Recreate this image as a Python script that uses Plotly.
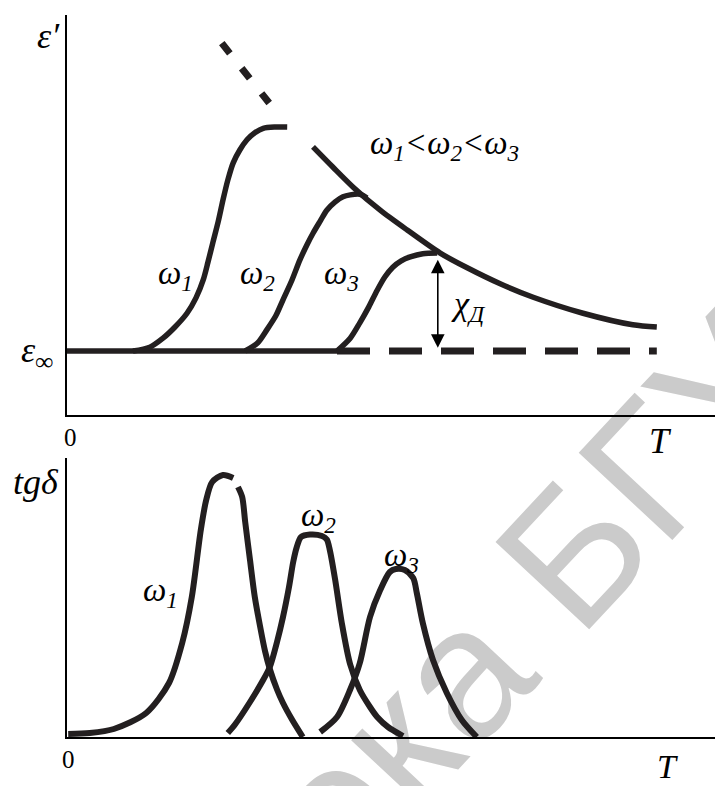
import plotly.graph_objects as go

W, H = 715, 786

# ---------------- data: upper panel (eps' vs T) ----------------
T_w1_top = [1.10, 1.38, 1.60, 1.80, 2.00, 2.15, 2.27, 2.35, 2.43, 2.52, 2.60, 2.68, 2.77, 2.88, 3.00, 3.13, 3.27, 3.47, 3.67]
E_w1_top = [1.00, 1.06, 1.20, 1.375, 1.59, 1.83, 2.11, 2.39, 2.69, 3.02, 3.36, 3.67, 3.94, 4.14, 4.30, 4.41, 4.48, 4.50, 4.50]

T_w2_top = [2.97, 3.18, 3.33, 3.48, 3.60, 3.75, 3.88, 4.00, 4.10, 4.22, 4.33, 4.47, 4.60, 4.72, 4.88, 5.00]
E_w2_top = [1.00, 1.13, 1.33, 1.55, 1.80, 2.11, 2.42, 2.66, 2.84, 3.03, 3.20, 3.33, 3.41, 3.44, 3.45, 3.39]

T_w3_top = [4.50, 4.72, 4.88, 5.03, 5.17, 5.30, 5.43, 5.57, 5.72, 5.93, 6.17]
E_w3_top = [1.00, 1.20, 1.44, 1.69, 1.95, 2.16, 2.31, 2.41, 2.47, 2.52, 2.53]

T_env = [4.10, 4.43, 4.77, 5.22, 5.67, 6.22, 6.67, 7.22, 7.77, 8.60, 9.43, 9.83]
E_env = [4.19, 3.875, 3.56, 3.20, 2.89, 2.53, 2.30, 2.05, 1.84, 1.59, 1.41, 1.375]

T_env_ext = [2.58, 3.37]
E_env_ext = [5.81, 4.875]

eps_inf = 1.0
T_base_solid = [0.0, 4.50]
T_base_dash = [4.50, 9.83]

chi_T = 6.18
chi_top = 2.45
chi_bottom = 1.05

# ---------------- data: lower panel (tg delta vs T) ----------------
T_w1_bot = [0.02, 0.38, 0.78, 1.32, 1.70, 1.92, 2.08, 2.23, 2.32, 2.42, 2.60, 2.77, None,
            2.85, 2.92, 2.97, 3.05, 3.13, 3.22, 3.30, 3.38, 3.50, 3.60, 3.75, 3.93]
D_w1_bot = [0.06, 0.08, 0.16, 0.48, 1.08, 1.88, 2.80, 4.14, 4.74, 5.10, 5.24, 5.18, None,
            5.00, 4.80, 4.30, 3.54, 2.80, 2.20, 1.72, 1.36, 0.95, 0.68, 0.35, 0.00]

T_w2_bot = [2.68, 2.80, 3.05, 3.25, 3.38, 3.50, 3.60, 3.70, 3.77, 3.83, 3.90, 4.05, 4.25,
            4.33, 4.38, 4.47, 4.58, 4.72, 4.88, 5.05, 5.17, 5.35, 5.60]
D_w2_bot = [0.08, 0.25, 0.70, 1.10, 1.40, 1.90, 2.40, 3.00, 3.50, 3.80, 4.00, 4.05, 4.02,
            3.95, 3.74, 3.14, 2.28, 1.45, 0.94, 0.60, 0.40, 0.20, 0.02]

T_w3_bot = [4.22, 4.50, 4.72, 4.88, 5.05, 5.22, 5.38, 5.48, 5.63, 5.77, 5.83, 5.93, 6.10, 6.33, 6.58, 6.83]
D_w3_bot = [0.10, 0.40, 0.95, 1.48, 2.40, 2.94, 3.30, 3.36, 3.34, 3.18, 2.88, 2.28, 1.54, 0.88, 0.34, 0.00]

T_range = [0, 10.8]
E_range = [0, 6.25]
D_range = [0, 5.58]

INK = "#231f20"
SERIF = "Liberation Serif"

fig = go.Figure()


def curve(x, y, ax, width=5.5, dash=None):
    fig.add_trace(go.Scatter(
        x=x, y=y, mode="lines", xaxis=ax[0], yaxis=ax[1],
        line=dict(color=INK, width=width, shape="spline", smoothing=0.8, dash=dash),
        connectgaps=False, hoverinfo="skip", showlegend=False))


top = ("x", "y")
bot = ("x2", "y2")

curve(T_base_solid, [eps_inf] * len(T_base_solid), top, width=5.5)
curve(T_base_dash, [eps_inf] * len(T_base_dash), top, width=7, dash="33px,19px")
curve(T_w1_top, E_w1_top, top)
curve(T_w2_top, E_w2_top, top)
curve(T_w3_top, E_w3_top, top)
curve(T_env, E_env, top)
curve(T_env_ext, E_env_ext, top, width=7, dash="13px,19px")

curve(T_w1_bot, D_w1_bot, bot, width=6)
curve(T_w2_bot, D_w2_bot, bot, width=6)
curve(T_w3_bot, D_w3_bot, bot, width=6)

annotations = []


def label(text, xc, baseline, size, sub=False, italic=True):
    yc = baseline - (0.22 if sub else 0.34) * size
    t = f"<i>{text}</i>" if italic else text
    annotations.append(dict(
        text=t, x=xc / W, y=1 - yc / H, xref="paper", yref="paper",
        xanchor="center", yanchor="middle", showarrow=False,
        font=dict(family=SERIF, size=size, color="black")))


label("ε′", 48, 48, 36)
label("ε<sub>∞</sub>", 37, 360, 36, sub=True)
label("ω<sub>1</sub>", 175, 283, 33, sub=True)
label("ω<sub>2</sub>", 257, 283, 33, sub=True)
label("ω<sub>3</sub>", 341, 283, 33, sub=True)
label("ω<sub>1</sub>&lt;ω<sub>2</sub>&lt;ω<sub>3</sub>", 444, 153, 33, sub=True)
label("χ<sub>Д</sub>", 468, 313, 34, sub=True)
label("0", 70, 446, 25, italic=False)
label("T", 660, 453, 36)
label("tgδ", 36, 494, 36)
label("0", 68, 768, 25, italic=False)
label("T", 667, 778, 34)
label("ω<sub>1</sub>", 160, 600, 33, sub=True)
label("ω<sub>2</sub>", 318, 525, 33, sub=True)
label("ω<sub>3</sub>", 401, 565, 33, sub=True)

# double-headed arrow for chi_D
annotations.append(dict(
    x=chi_T, y=chi_bottom, ax=chi_T, ay=chi_top, xref="x", yref="y", axref="x", ayref="y",
    text="", showarrow=True, arrowhead=2, startarrowhead=2, arrowside="end+start",
    arrowsize=1.7, startarrowsize=1.7, arrowwidth=1.6, arrowcolor="black"))

# watermark (below the curves)
wx, wy = 360 / W, 1 - 754 / H
shapes = [dict(
    type="rect", xref="paper", yref="paper",
    x0=wx - 0.001, x1=wx + 0.001, y0=wy - 0.001, y1=wy + 0.001,
    line=dict(width=0), fillcolor="rgba(0,0,0,0)", layer="below",
    label=dict(text="Библиотека БГУИР", textangle=-47, textposition="middle center",
               font=dict(family="Liberation Sans", size=186, color="#cbcbcb")))]

xdom = [67 / W, 1.0]
axis_common = dict(showline=True, linecolor="black", linewidth=2.2, showticklabels=False,
                   ticks="", showgrid=False, zeroline=False, fixedrange=True)

fig.update_layout(
    width=W, height=H, margin=dict(l=0, r=0, t=0, b=0),
    paper_bgcolor="white", plot_bgcolor="rgba(0,0,0,0)",
    showlegend=False,
    xaxis=dict(domain=xdom, range=T_range, anchor="y", **axis_common),
    yaxis=dict(domain=[1 - 415 / H, 1 - 15 / H], range=E_range, anchor="x", **axis_common),
    xaxis2=dict(domain=xdom, range=T_range, anchor="y2", **axis_common),
    yaxis2=dict(domain=[1 - 737 / H, 1 - 458 / H], range=D_range, anchor="x2", **axis_common),
    annotations=annotations,
    shapes=shapes,
)

fig.write_html("out.html")
